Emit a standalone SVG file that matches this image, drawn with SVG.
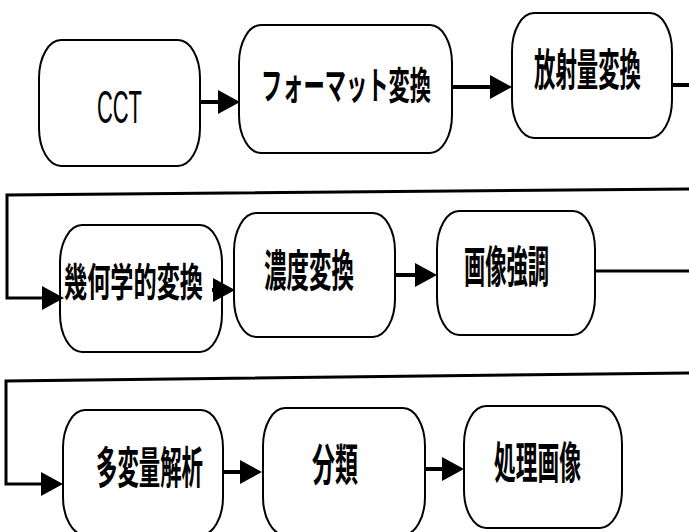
<svg xmlns="http://www.w3.org/2000/svg" width="689" height="532" viewBox="0 0 689 532">
  <defs>
    <style>
      .box { fill: #ffffff; stroke: #000000; stroke-width: 2; }
      .jp { font-family: "Noto Sans CJK JP", "Noto Sans CJK SC", sans-serif; font-weight: 700; fill: #000000; text-anchor: middle; dominant-baseline: central; }
      .lat { font-family: "Liberation Sans", Arial, sans-serif; fill: #000000; text-anchor: middle; }
      .conn { fill: none; stroke: #000000; stroke-width: 4; }
      .thin { fill: none; stroke: #000000; stroke-width: 3; }
    </style>
    <marker id="arrow" viewBox="0 0 22 24" markerWidth="22" markerHeight="24" refX="0" refY="12" orient="auto" markerUnits="userSpaceOnUse">
      <path d="M0,0 L22,12 L0,24 Z" fill="#000000"/>
    </marker>
  </defs>
  <rect width="689" height="532" fill="#ffffff"/>

  <g id="node-cct">
    <rect class="box" x="39" y="40" width="161" height="126" rx="22" ry="38"/>
    <text class="lat" font-size="46" transform="translate(119.5,123) scale(0.476,1)">CCT</text>
  </g>
  <g id="node-format">
    <rect class="box" x="239" y="25" width="213" height="128" rx="22" ry="38"/>
    <text class="jp" font-size="38" transform="translate(346,82) scale(0.559,1)">フォーマット変換</text>
  </g>
  <g id="node-radiometric">
    <rect class="box" x="512" y="13" width="160" height="125" rx="22" ry="38"/>
    <text class="jp" font-size="44" transform="translate(587.5,67) scale(0.486,1)">放射量変換</text>
  </g>
  <g id="node-geometric">
    <rect class="box" x="60" y="225" width="162" height="127" rx="22" ry="38"/>
    <text class="jp" font-size="39" transform="translate(133.5,279) scale(0.594,1)">幾何学的変換</text>
  </g>
  <g id="node-density">
    <rect class="box" x="234" y="213" width="161" height="124" rx="22" ry="38"/>
    <text class="jp" font-size="44" transform="translate(309,267) scale(0.511,1)">濃度変換</text>
  </g>
  <g id="node-enhance">
    <rect class="box" x="437" y="211" width="158" height="124" rx="22" ry="38"/>
    <text class="jp" font-size="44" transform="translate(506.5,264) scale(0.483,1)">画像強調</text>
  </g>
  <g id="node-multivariate">
    <rect class="box" x="63" y="410" width="160" height="125" rx="22" ry="38"/>
    <text class="jp" font-size="44" transform="translate(149.5,465) scale(0.486,1)">多変量解析</text>
  </g>
  <g id="node-classify">
    <rect class="box" x="263" y="408" width="162" height="127" rx="22" ry="38"/>
    <text class="jp" font-size="44" transform="translate(335,462) scale(0.523,1)">分類</text>
  </g>
  <g id="node-result">
    <rect class="box" x="464" y="406" width="158" height="122" rx="22" ry="38"/>
    <text class="jp" font-size="44" transform="translate(537.5,460) scale(0.494,1)">処理画像</text>
  </g>

  <g id="connectors">
    <path class="conn" d="M200,102 L218,102" marker-end="url(#arrow)"/>
    <path class="conn" d="M452,87 L490,87" marker-end="url(#arrow)"/>
    <path class="conn" d="M672,85 L689,85"/>
    <path class="thin" d="M689,189 L7,195 L7,298 L42,298" marker-end="url(#arrow)"/>
    <path class="conn" d="M212,290 L213,290" marker-end="url(#arrow)"/>
    <path class="conn" d="M395,275 L415,275" marker-end="url(#arrow)"/>
    <path class="thin" d="M595,271 L689,271"/>
    <path class="thin" d="M689,373 L6,381 L6,484 L41,484" marker-end="url(#arrow)"/>
    <path class="conn" d="M223,472 L240,472" marker-end="url(#arrow)"/>
    <path class="conn" d="M425,469 L442,469" marker-end="url(#arrow)"/>
  </g>
</svg>
